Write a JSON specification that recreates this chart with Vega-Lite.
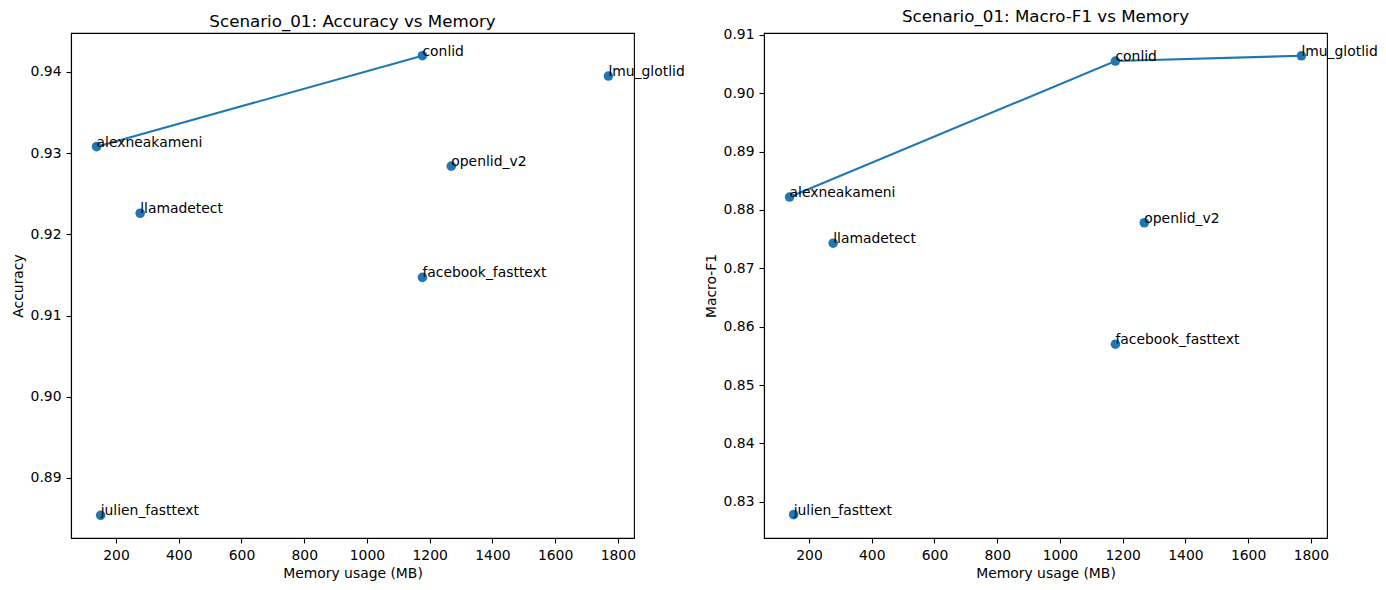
{
  "$schema": "https://vega.github.io/schema/vega-lite/v6.json",
  "autosize": {"type": "pad"},
  "padding": {"left": 10, "top": 8, "right": 5, "bottom": 5},
  "background": "white",
  "data": {
    "values": [
      {"model": "alexneakameni", "memory": 138, "accuracy": 0.9308, "macro_f1": 0.8822, "front_acc": true, "front_f1": true},
      {"model": "conlid", "memory": 1177, "accuracy": 0.9420, "macro_f1": 0.9055, "front_acc": true, "front_f1": true},
      {"model": "lmu_glotlid", "memory": 1770, "accuracy": 0.9395, "macro_f1": 0.9064, "front_acc": false, "front_f1": true},
      {"model": "openlid_v2", "memory": 1269, "accuracy": 0.9284, "macro_f1": 0.8778, "front_acc": false, "front_f1": false},
      {"model": "llamadetect", "memory": 277, "accuracy": 0.9226, "macro_f1": 0.8743, "front_acc": false, "front_f1": false},
      {"model": "facebook_fasttext", "memory": 1177, "accuracy": 0.9147, "macro_f1": 0.8570, "front_acc": false, "front_f1": false},
      {"model": "julien_fasttext", "memory": 151, "accuracy": 0.8854, "macro_f1": 0.8278, "front_acc": false, "front_f1": false}
    ]
  },
  "hconcat": [
    {
      "title": "Scenario_01: Accuracy vs Memory",
      "width": 563,
      "height": 505,
      "encoding": {
        "x": {"field": "memory", "type": "quantitative", "title": "Memory usage (MB)",
              "scale": {"domain": [56.4, 1851.6], "nice": false, "zero": false},
              "axis": {"values": [200, 400, 600, 800, 1000, 1200, 1400, 1600, 1800], "format": "d"}},
        "y": {"field": "accuracy", "type": "quantitative", "title": "Accuracy",
              "scale": {"domain": [0.8826, 0.9448], "nice": false, "zero": false},
              "axis": {"values": [0.89, 0.90, 0.91, 0.92, 0.93, 0.94], "format": ".2f"}}
      },
      "layer": [
        {"transform": [{"filter": "datum.front_acc"}],
         "mark": {"type": "line", "color": "#1f77b4", "strokeWidth": 2.1}},
        {"mark": {"type": "point", "filled": true, "shape": "circle", "size": 92, "color": "#1f77b4", "opacity": 1}},
        {"mark": {"type": "text", "align": "left", "baseline": "alphabetic", "fontSize": 13.9, "color": "black"},
         "encoding": {"text": {"field": "model"}}}
      ]
    },
    {
      "title": "Scenario_01: Macro-F1 vs Memory",
      "width": 563,
      "height": 505,
      "encoding": {
        "x": {"field": "memory", "type": "quantitative", "title": "Memory usage (MB)",
              "scale": {"domain": [56.4, 1851.6], "nice": false, "zero": false},
              "axis": {"values": [200, 400, 600, 800, 1000, 1200, 1400, 1600, 1800], "format": "d"}},
        "y": {"field": "macro_f1", "type": "quantitative", "title": "Macro-F1",
              "scale": {"domain": [0.8238, 0.9103], "nice": false, "zero": false},
              "axis": {"values": [0.83, 0.84, 0.85, 0.86, 0.87, 0.88, 0.89, 0.90, 0.91], "format": ".2f"}}
      },
      "layer": [
        {"transform": [{"filter": "datum.front_f1"}],
         "mark": {"type": "line", "color": "#1f77b4", "strokeWidth": 2.1}},
        {"mark": {"type": "point", "filled": true, "shape": "circle", "size": 92, "color": "#1f77b4", "opacity": 1}},
        {"mark": {"type": "text", "align": "left", "baseline": "alphabetic", "fontSize": 13.9, "color": "black"},
         "encoding": {"text": {"field": "model"}}}
      ]
    }
  ],
  "resolve": {"scale": {"x": "independent", "y": "independent"}},
  "spacing": 130,
  "bounds": "flush",
  "config": {
    "font": "DejaVu Sans",
    "view": {"stroke": "black", "strokeWidth": 1.1},
    "title": {"fontSize": 16.7, "fontWeight": "normal", "color": "black", "offset": 2, "anchor": "middle", "frame": "group", "baseline": "bottom"},
    "axis": {
      "grid": false,
      "domain": true,
      "domainColor": "black",
      "domainWidth": 1.1,
      "tickColor": "black",
      "tickSize": 5,
      "tickWidth": 1.1,
      "labelPadding": 5,
      "labelFontSize": 13.9,
      "labelColor": "black",
      "titleFontSize": 13.9,
      "titleFontWeight": "normal",
      "titleColor": "black",
      "titlePadding": 5,
      "labelFlush": false,
      "labelOverlap": false
    }
  }
}
